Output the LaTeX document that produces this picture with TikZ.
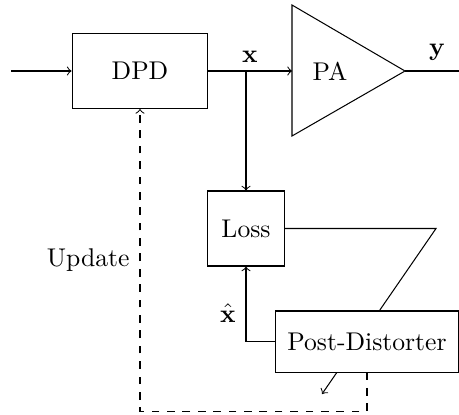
\documentclass[tikz,border=0pt]{standalone}
\usetikzlibrary{calc}

\begin{document}
\begin{tikzpicture}[x=0.39pt,y=-0.39pt,
  blockbox/.style={draw,fill=white,rectangle,inner sep=0pt},
  conn/.style={->},
  feedback/.style={->,dashed}]
\useasboundingbox (0,0) rectangle (459,414);

% forward path blocks
\node[blockbox,minimum width=53pt,minimum height=29.25pt] (dpd) at (140,71) {DPD};
\coordinate (paL) at (292,71);
\coordinate (paT) at (292,5);
\coordinate (paB) at (292,136);
\coordinate (paTip) at (405,71);
\draw (paT) -- (paTip) -- (paB) -- cycle;
\node (pa) at (330,71) {PA};

% signal taps and ends
\coordinate (in) at (11,71);
\coordinate (j) at (246,71);
\coordinate (out) at (459,71);

% learning loop blocks
\node[blockbox,minimum width=30pt,minimum height=29.25pt] (loss) at (246,228.5) {Loss};
\coordinate (bend) at (436,228.5);
\coordinate (adj) at (322,394);

\draw[conn] (in) -- (dpd.west);
\draw[conn] (dpd.east) -- (paL);
\draw (paTip) -- (out);
\draw[conn] (j) -- (loss.north);

% adjustment arrow passing behind the post-distorter
\draw[conn] (loss.east) -- (bend) -- (adj);

\node[blockbox,minimum width=71pt,minimum height=23.8pt] (pd) at (367,341.5) {Post-Distorter};

\draw[conn] (pd.west) -| (loss.south);
\draw[feedback] (pd.south) -- ++(0,38.5) -| (dpd.south);

% labels
\node[anchor=base] (xlab) at (250,62) {$\mathbf{x}$};
\node[anchor=base] (ylab) at (437,55) {$\mathbf{y}$};
\node (xhat) at (228,313) {$\hat{\mathbf{x}}$};
\node[anchor=base east,inner sep=0pt] (upd) at (130,266) {Update};
\end{tikzpicture}
\end{document}
